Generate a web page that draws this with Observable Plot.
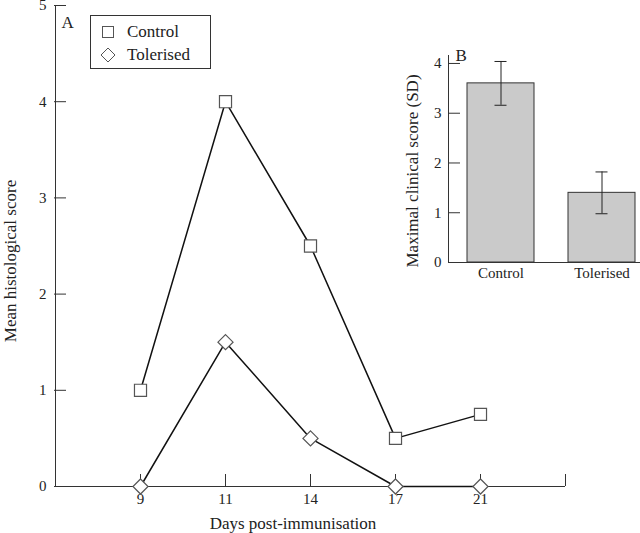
<!DOCTYPE html>
<html><head><meta charset="utf-8">
<script src="https://cdn.jsdelivr.net/npm/d3@7"></script>
<script src="https://cdn.jsdelivr.net/npm/@observablehq/plot@0.6"></script>
<style>
body{margin:0;background:#fff;}
#wrap{position:relative;width:640px;height:533px;font-family:"Liberation Serif",serif;color:#222;}
#main{position:absolute;left:0;top:0;}
#inset{position:absolute;left:380px;top:40px;}
#legend{position:absolute;left:90px;top:15px;width:119px;height:52px;border:1px solid #333;background:#fff;font-size:17px;}
#legend .sym{position:absolute;left:9px;}
#legend .lab{position:absolute;left:36px;line-height:17px;}
</style></head><body>
<div id="wrap"><div id="main"></div><div id="inset"></div>
<div id="legend">
  <svg class="sym" style="top:8px" width="16" height="16"><rect x="2.5" y="2.5" width="11" height="11" fill="white" stroke="#555"/></svg>
  <span class="lab" style="top:7px">Control</span>
  <svg class="sym" style="top:31px" width="16" height="16"><path d="M8,1 L15,8 L8,15 L1,8 Z" fill="white" stroke="#555"/></svg>
  <span class="lab" style="top:30px">Tolerised</span>
</div>
</div>
<script>
// Panel A data
const days = ["9", "11", "14", "17", "21"];
const control = [1.0, 4.0, 2.5, 0.5, 0.75];
const tolerised = [0, 1.5, 0.5, 0, 0];
const yTicksA = [0, 1, 2, 3, 4, 5];
// Panel B data
const groups = ["Control", "Tolerised"];
const maxScore = [3.6, 1.4];
const maxSD = [0.44, 0.42];
const yTicksB = [0, 1, 2, 3, 4];

const font = '"Liberation Serif", serif';
const xDomain = ["start", ...days, "end"];
const series = [
  ...days.map((d, i) => ({day: d, value: control[i], group: "Control"})),
  ...days.map((d, i) => ({day: d, value: tolerised[i], group: "Tolerised"}))
];
const fmt = d => String(d);
const TICK = 12;

// Panel A geometry
const A = {width: 640, height: 533, marginLeft: 54, marginRight: 75, marginTop: 5, marginBottom: 47};
const aW = A.width - A.marginLeft - A.marginRight;
const aH = A.height - A.marginTop - A.marginBottom;

const main = Plot.plot({
  ...A,
  style: {fontFamily: font, fontSize: "15px", color: "#222", background: "white"},
  x: {type: "point", domain: xDomain, padding: 0},
  y: {domain: [0, 5]},
  symbol: {domain: groups, range: ["square", "diamond2"]},
  marks: [
    Plot.ruleY([0], {stroke: "#333"}),
    Plot.ruleX(["start"], {stroke: "#333"}),
    Plot.tickX([...days, "end"], {x: d => d, stroke: "#333", insetTop: aH - TICK}),
    Plot.tickY(yTicksA, {y: d => d, stroke: "#333", insetRight: aW - TICK}),
    Plot.axisX({ticks: days, tickSize: 0, tickPadding: 7, label: null}),
    Plot.axisY({ticks: yTicksA, tickFormat: fmt, tickSize: 0, tickPadding: 8, label: null}),
    Plot.line(series, {x: "day", y: "value", z: "group", stroke: "#111", strokeWidth: 1.5}),
    Plot.dot(series, {x: "day", y: "value", symbol: "group", r: 6.8, fill: "white", stroke: "#555", strokeWidth: 1.2}),
    Plot.text(["Days post-immunisation"], {text: d => d, frameAnchor: "bottom", lineAnchor: "bottom", textAnchor: "middle", dx: -17, dy: 42, fontSize: 17}),
    Plot.text(["Mean histological score"], {text: d => d, frameAnchor: "left", lineAnchor: "middle", textAnchor: "middle", rotate: -90, dx: -44, dy: 15, fontSize: 17}),
    Plot.text(["A"], {text: d => d, frameAnchor: "top-left", lineAnchor: "bottom", textAnchor: "start", dx: 7, dy: 22, fontSize: 17})
  ]
});
document.getElementById("main").append(main);

const barData = groups.map((g, i) => ({group: g, value: maxScore[i], lo: maxScore[i] - maxSD[i], hi: maxScore[i] + maxSD[i]}));

// Panel B geometry
const B = {width: 260, height: 250, marginLeft: 68, marginRight: 0, marginTop: 15, marginBottom: 28};
const bW = B.width - B.marginLeft - B.marginRight;

const inset = Plot.plot({
  ...B,
  style: {fontFamily: font, fontSize: "15px", color: "#222", background: "transparent", overflow: "visible"},
  x: {type: "band", domain: groups, paddingInner: 0.34, paddingOuter: 0.12, align: 0.78},
  y: {domain: [0, 4.16]},
  marks: [
    Plot.barY(barData, {x: "group", y: "value", fill: "#cacaca", stroke: "#333"}),
    Plot.ruleX(barData, {x: "group", y1: "lo", y2: "hi", stroke: "#222"}),
    Plot.tickY(barData, {x: "group", y: "lo", stroke: "#222", insetLeft: 27.5, insetRight: 27.5}),
    Plot.tickY(barData, {x: "group", y: "hi", stroke: "#222", insetLeft: 27.5, insetRight: 27.5}),
    Plot.ruleY([0], {stroke: "#333"}),
    Plot.frame({anchor: "left", stroke: "#333"}),
    Plot.tickY(yTicksB, {y: d => d, stroke: "#333", insetRight: bW - TICK}),
    Plot.axisX({tickSize: 0, tickPadding: 5, label: null}),
    Plot.axisY({ticks: yTicksB, tickFormat: fmt, tickSize: 0, tickPadding: 7, label: null}),
    Plot.text(["Maximal clinical score (SD)"], {text: d => d, frameAnchor: "left", lineAnchor: "middle", textAnchor: "middle", rotate: -90, dx: -36, dy: 12, fontSize: 17}),
    Plot.text(["B"], {text: d => d, frameAnchor: "top-left", lineAnchor: "bottom", textAnchor: "start", dx: 7, dy: 5, fontSize: 17})
  ]
});
document.getElementById("inset").append(inset);
</script>
</body></html>
